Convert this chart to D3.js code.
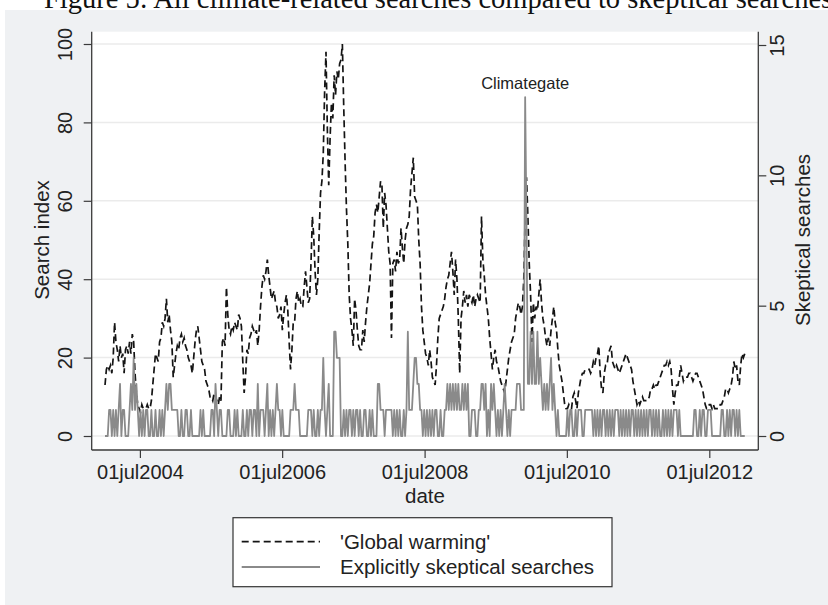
<!DOCTYPE html>
<html><head><meta charset="utf-8">
<script src="https://cdn.jsdelivr.net/npm/d3@7"></script>
<style>
body{margin:0;background:#fff}
svg{display:block}
text{font-family:"Liberation Sans",Arial,Helvetica,sans-serif;fill:#222}
</style>
</head><body>
<svg id="c" width="828" height="605"></svg>
<script>
// ---------------- data ----------------
const titleText = "Figure 5: All climate-related searches compared to skeptical searches";
const firstWeek = "2004-01-04";           // weekly observations start here
const globalWarming = [
13,17,18,17,18,16,20,29,24,22, 19,23,20,21,16,22,23,21,24,21,
26,24,16,11,8,7,6,8,7,7, 7,8,7,7,9,13,17,21,20,19,
24,25,29,28,30,35,29,31,27,24, 15,18,21,23,22,25,26,24,25,23,
22,20,19,18,16,20,24,27,28,25, 22,19,18,17,14,13,12,10,10,9,
11,10,9,8,10,9,24,25,23,38, 31,27,26,28,27,29,28,27,31,30,
28,19,11,15,22,21,25,26,28,27, 26,27,23,27,33,38,41,40,42,45,
41,38,35,36,37,34,33,30,31,33, 27,31,34,36,32,24,17,22,29,29,
35,37,34,35,33,33,38,42,38,34, 35,44,56,51,42,36,40,52,62,65,
72,88,98,78,64,76,85,81,92,87, 93,91,95,96,100,84,70,58,49,36,
30,27,23,35,32,27,23,22,22,27, 24,29,33,36,39,44,49,51,57,59,
57,61,65,64,53,62,59,53,47,44, 25,44,45,42,47,44,45,53,48,44,
50,53,54,56,63,67,71,61,60,59, 50,44,33,27,24,21,20,18,22,19,
15,14,13,18,25,30,31,32,33,35, 38,40,41,44,47,42,36,45,40,30,
16,30,33,37,34,36,33,36,35,34, 36,33,35,36,35,34,56,45,41,36,
33,30,25,21,17,20,22,19,18,16, 14,13,12,11,14,17,20,22,24,25,
26,30,32,34,33,31,33,40,56,66, 56,44,36,24,34,30,33,32,36,40,
34,30,28,25,23,25,23,27,30,33, 29,27,22,18,16,14,11,8,7,7,
8,7,7,10,11,9,7,11,13,15, 16,16,17,17,17,17,16,17,19,18,
20,21,23,16,12,11,16,18,18,21, 22,23,19,18,17,18,17,16,17,18,
19,20,21,20,19,18,17,14,12,10, 8,9,8,9,10,9,9,9,9,10,
12,12,13,12,13,13,14,15,16,17, 18,18,19,18,19,17,12,8,11,13,
13,15,18,16,14,15,15,15,16,16, 15,14,15,16,16,15,14,13,12,10,
8,7,7,8,8,7,8,7,7,7, 7,8,8,9,10,12,12,11,12,13,
15,19,17,18,14,13,18,21,20,21
];
const skeptical = [
0,0,0,1,1,0,1,0,1,0, 1,2,0,1,1,0,0,0,1,2,
1,3,1,2,1,0,1,0,1,0, 1,1,0,0,1,0,0,1,0,0,
1,0,1,0,1,2,1,2,2,1, 1,1,1,1,0,0,1,0,0,1,
1,0,0,1,0,0,0,0,0,0, 1,0,1,0,0,0,0,0,1,1,
0,2,1,0,1,1,0,0,0,0, 1,1,0,0,0,1,0,1,0,0,
0,1,0,0,1,0,1,1,0,1, 1,0,2,0,1,1,1,0,1,2,
0,1,0,1,0,1,2,1,1,0, 1,0,0,0,0,0,1,1,1,2,
1,1,1,0,0,0,0,0,0,1, 1,1,0,1,0,0,1,0,1,1,
3,1,0,1,2,0,0,0,4,4, 3,3,3,0,0,1,0,1,0,1,
1,0,1,0,1,1,0,1,0,0, 1,1,0,0,1,0,1,0,0,0,
2,2,1,1,1,0,1,1,1,1, 1,0,1,0,1,0,1,0,0,1,
0,1,4,1,1,1,2,3,3,2, 2,1,1,0,1,0,1,0,1,0,
1,0,1,1,0,0,1,0,0,1, 1,2,1,2,1,2,1,2,1,2,
1,1,2,1,2,1,2,0,0,1, 1,1,0,0,1,1,2,2,1,2,
0,1,0,2,1,2,1,0,1,0, 1,0,1,2,1,0,1,0,1,1,
1,1,2,2,2,1,1,1,13,8, 2,2,4,2,4,2,2,4,2,3,
2,1,2,1,2,1,2,3,1,2, 1,0,1,0,0,0,0,0,0,1,
0,1,1,0,0,1,0,1,1,1, 0,0,1,1,1,1,1,1,0,1,
0,1,0,1,0,1,1,0,1,0, 1,0,1,0,1,1,1,0,1,0,
1,0,1,0,1,0,1,1,0,1, 0,1,0,1,0,1,0,1,0,1,
1,0,1,0,1,0,1,0,0,1, 0,1,0,1,0,1,0,1,1,1,
0,1,0,0,0,0,0,0,0,0, 0,0,1,1,0,0,1,0,1,1,
0,0,1,1,1,0,0,0,0,0, 0,0,1,1,0,0,1,0,1,0,
1,1,0,1,0,1,0,0,0,0
];
const xTickDates  = ["2004-07-01","2006-07-01","2008-07-01","2010-07-01","2012-07-01"];
const xTickLabels = ["01jul2004","01jul2006","01jul2008","01jul2010","01jul2012"];
const leftTicks  = [0,20,40,60,80,100];
const rightTicks = [0,5,10,15];
const legendLabels = ["'Global warming'","Explicitly skeptical searches"];
const annotation = {text:"Climategate", week:308};

// ---------------- layout ----------------
const W = 828, H = 605;
const P = {left:91.7, right:758.3, top:31.7, bottom:450};
const parse = d3.timeParse("%Y-%m-%d");
const start = parse(firstWeek);
const dates = globalWarming.map((_, i) => d3.timeDay.offset(start, 7*i));

const x = d3.scaleTime()
  .domain([parse(xTickDates[0]), parse(xTickDates[xTickDates.length-1])])
  .range([139.9, 709.3]);
const yL = d3.scaleLinear().domain([0,100]).range([436,44]);
const yR = d3.scaleLinear().domain([0,15]).range([436,45]);

const svg = d3.select("#c");
svg.append("rect").attr("width",W).attr("height",H).attr("fill","#fff");
svg.append("rect").attr("x",5).attr("y",10).attr("width",W-5).attr("height",H-10).attr("fill","#eff1f3");

// title (cut off at the top edge in the reference)
svg.append("text").attr("x",44).attr("y",8)
  .style("font-family","'Liberation Serif','DejaVu Serif',serif")
  .style("font-size","28.5px").style("fill","#111")
  .text(titleText);

// plot area
svg.append("rect").attr("x",P.left).attr("y",P.top)
  .attr("width",P.right-P.left).attr("height",P.bottom-P.top).attr("fill","#fff");

// gridlines
svg.append("g").selectAll("line").data(leftTicks).join("line")
  .attr("x1",P.left).attr("x2",P.right)
  .attr("y1",d=>yL(d)).attr("y2",d=>yL(d))
  .attr("stroke","#ebebeb").attr("stroke-width",1.5);

// lines
const gwLine = d3.line().x((d,i)=>x(dates[i])).y(d=>yL(d));
const skLine = d3.line().x((d,i)=>x(dates[i])).y(d=>yR(d));
svg.append("path").datum(globalWarming).attr("d",gwLine)
  .attr("fill","none").attr("stroke","#141414").attr("stroke-width",1.7)
  .attr("stroke-dasharray","7,4");
svg.append("path").datum(skeptical).attr("d",skLine)
  .attr("fill","none").attr("stroke","#8a8a8a").attr("stroke-width",1.8)
  .attr("stroke-linejoin","round");

// annotation
svg.append("text").attr("x",x(dates[annotation.week])).attr("y",89)
  .attr("text-anchor","middle").style("font-size","16.5px").text(annotation.text);

// axes lines
const axisColor = "#3a3a3a";
svg.append("line").attr("x1",P.left).attr("x2",P.left).attr("y1",P.top).attr("y2",P.bottom).attr("stroke",axisColor).attr("stroke-width",1.3);
svg.append("line").attr("x1",P.right).attr("x2",P.right).attr("y1",P.top).attr("y2",P.bottom).attr("stroke",axisColor).attr("stroke-width",1.3);
svg.append("line").attr("x1",P.left).attr("x2",P.right).attr("y1",P.bottom).attr("y2",P.bottom).attr("stroke",axisColor).attr("stroke-width",1.3);

function styleAxis(g){
  g.select(".domain").remove();
  g.selectAll(".tick line").attr("stroke",axisColor).attr("stroke-width",1.2);
  g.selectAll(".tick text").style("font-size","20px").attr("fill","#222");
}
// left axis
const gL = svg.append("g").attr("transform",`translate(${P.left},0)`)
  .call(d3.axisLeft(yL).tickValues(leftTicks).tickSize(8).tickFormat(d3.format("d")));
styleAxis(gL);
gL.selectAll(".tick text").attr("x",0).attr("dy",0).attr("y",0)
  .attr("text-anchor","middle").attr("transform","translate(-20,0) rotate(-90)");
// right axis
const gR = svg.append("g").attr("transform",`translate(${P.right},0)`)
  .call(d3.axisRight(yR).tickValues(rightTicks).tickSize(8).tickFormat(d3.format("d")));
styleAxis(gR);
gR.selectAll(".tick text").attr("x",0).attr("dy",0).attr("y",0)
  .attr("text-anchor","middle").attr("transform","translate(25.5,0) rotate(-90)");
// bottom axis
const gB = svg.append("g").attr("transform",`translate(0,${P.bottom})`)
  .call(d3.axisBottom(x).tickValues(xTickDates.map(parse)).tickSize(8)
    .tickFormat((d,i)=>xTickLabels[i]));
styleAxis(gB);
gB.selectAll(".tick text").attr("y",0).attr("dy",0).attr("transform","translate(0,28.5)");

// axis titles
const midY = (yL(0)+yL(100))/2;
svg.append("text").attr("transform",`translate(49,${midY}) rotate(-90)`)
  .attr("text-anchor","middle").style("font-size","20.5px").text("Search index");
svg.append("text").attr("transform",`translate(809.5,${midY}) rotate(-90)`)
  .attr("text-anchor","middle").style("font-size","20.5px").text("Skeptical searches");
svg.append("text").attr("x",(P.left+P.right)/2).attr("y",502.5)
  .attr("text-anchor","middle").style("font-size","20.5px").text("date");

// legend
const L = {x:233, y:517.7, w:379, h:69};
svg.append("rect").attr("x",L.x).attr("y",L.y).attr("width",L.w).attr("height",L.h)
  .attr("fill","#fff").attr("stroke","#333").attr("stroke-width",1.2);
const rows = [541.7, 567];
svg.append("line").attr("x1",241.7).attr("x2",320).attr("y1",rows[0]).attr("y2",rows[0])
  .attr("stroke","#141414").attr("stroke-width",1.7).attr("stroke-dasharray","7,4");
svg.append("line").attr("x1",241.7).attr("x2",320).attr("y1",rows[1]).attr("y2",rows[1])
  .attr("stroke","#8a8a8a").attr("stroke-width",1.8);
legendLabels.forEach((t,i)=>{
  svg.append("text").attr("x",340).attr("y",rows[i]).attr("dy","0.35em")
    .style("font-size","20.5px").text(t);
});
</script>
</body></html>
